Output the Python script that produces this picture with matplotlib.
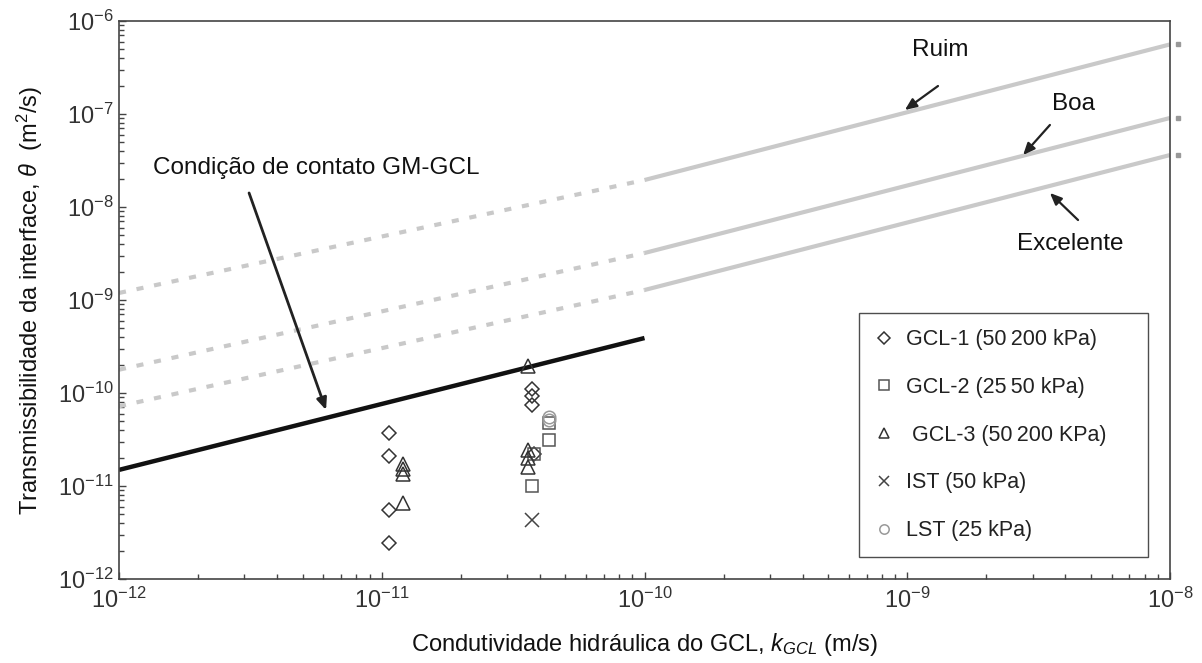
import matplotlib
matplotlib.use("Agg")
import matplotlib.pyplot as plt
from matplotlib.ticker import LogLocator, NullFormatter

plt.rcParams['font.family'] = ['Liberation Sans', 'DejaVu Sans']
plt.rcParams['mathtext.fontset'] = 'custom'
plt.rcParams['mathtext.rm'] = 'Liberation Sans'
plt.rcParams['mathtext.it'] = 'Liberation Sans:italic'
plt.rcParams['mathtext.sf'] = 'Liberation Sans'

# ---------------- data ----------------
k_dashed = [1e-12, 1e-10]
k_solid = [1e-10, 1e-8]
ruim_dashed = [1.19e-9, 1.95e-8]
ruim_solid = [1.95e-8, 5.6e-7]
boa_dashed = [1.78e-10, 3.2e-9]
boa_solid = [3.2e-9, 9.06e-8]
exc_dashed = [7.2e-11, 1.28e-9]
exc_solid = [1.28e-9, 3.62e-8]

k_contact = [1e-12, 1e-10]
theta_contact = [1.49e-11, 3.9e-10]

gcl1_k = [1.07e-11, 1.07e-11, 1.07e-11, 1.07e-11, 3.74e-11, 3.74e-11, 3.74e-11, 3.8e-11]
gcl1_t = [3.74e-11, 2.1e-11, 5.5e-12, 2.42e-12, 1.1e-10, 9.3e-11, 7.4e-11, 2.2e-11]
gcl2_k = [3.8e-11, 3.74e-11, 4.34e-11, 4.34e-11]
gcl2_t = [2.2e-11, 1.0e-11, 3.13e-11, 4.8e-11]
gcl3_k = [1.2e-11, 1.2e-11, 1.2e-11, 1.2e-11, 3.59e-11, 3.59e-11, 3.59e-11, 3.59e-11]
gcl3_t = [1.71e-11, 1.51e-11, 1.35e-11, 6.6e-12, 1.95e-10, 2.44e-11, 1.99e-11, 1.61e-11]
ist_k = [3.74e-11]
ist_t = [4.3e-12]
lst_k = [4.34e-11, 4.34e-11]
lst_t = [5.56e-11, 5.1e-11]

labels = ["GCL-1 (50\u2009200 kPa)", "GCL-2 (25\u200950 kPa)", " GCL-3 (50\u2009200 KPa)",
          "IST (50 kPa)", "LST (25 kPa)"]

# ---------------- figure ----------------
fig = plt.figure(figsize=(12.02, 6.63), dpi=100)
ax = fig.add_axes([119/1202, 1-579/663, (1170-119)/1202, (579-21)/663])
ax.set_xscale('log')
ax.set_yscale('log')
ax.set_xlim(1e-12, 1e-8)
ax.set_ylim(1e-12, 1e-6)

gray = '#c9c9c9'
dash = (0, (1.7, 2.6))
for d, s in [(ruim_dashed, ruim_solid), (boa_dashed, boa_solid), (exc_dashed, exc_solid)]:
    ax.plot(k_dashed, d, color=gray, lw=3, linestyle=dash, dash_capstyle='butt')
    ax.plot(k_solid, s, color=gray, lw=3, solid_capstyle='butt')
    # small stray dot just outside the right spine at the end of each line
    ax.plot([k_solid[-1] * 1.07], [s[-1]], marker='s', markersize=2.2, color='#999999',
            linestyle='none', clip_on=False)

ax.plot(k_contact, theta_contact, color='#111111', lw=3.2, solid_capstyle='butt')

mk = dict(linestyle='none', markerfacecolor='none', markeredgewidth=1.1)
h1, = ax.plot(gcl1_k, gcl1_t, marker='D', markersize=7.5, markeredgecolor='#333333', **mk)
h2, = ax.plot(gcl2_k, gcl2_t, marker='s', markersize=9, markeredgecolor='#555555', **mk)
h3, = ax.plot(gcl3_k, gcl3_t, marker='^', markersize=10, markeredgecolor='#333333', **mk)
h4, = ax.plot(ist_k, ist_t, marker='x', markersize=10, markeredgecolor='#444444', **mk)
h5, = ax.plot(lst_k, lst_t, marker='o', markersize=9, markeredgecolor='#999999', **mk)

x0 = (859 - 119) / 1051
x1 = (1148 - 119) / 1051
leg = ax.legend([h1, h2, h3, h4, h5], labels, loc='lower left',
                bbox_to_anchor=(x0, 0.039, x1 - x0, 0.43), mode='expand',
                frameon=True, fancybox=False,
                edgecolor='#222222', fontsize=15.5, labelspacing=1.24,
                handlelength=0.8, handletextpad=0.65, borderpad=0.75,
                markerscale=0.75, borderaxespad=0)
leg.get_frame().set_linewidth(1.0)
for t in leg.get_texts():
    t.set_color('#222222')

ap = dict(arrowstyle='-|>,head_length=0.7,head_width=0.3', color='#222222', lw=1.6,
          shrinkA=0, shrinkB=0)
ap_big = dict(arrowstyle='-|>,head_length=0.7,head_width=0.3', color='#222222', lw=2.0,
              shrinkA=0, shrinkB=0)
ax.annotate("", xy=(10**-9.009, 10**-6.957), xytext=(10**-8.883, 10**-6.699), arrowprops=ap)
ax.annotate("", xy=(10**-8.559, 10**-7.441), xytext=(10**-8.457, 10**-7.118), arrowprops=ap)
ax.annotate("", xy=(10**-8.457, 10**-7.849), xytext=(10**-8.350, 10**-8.140), arrowprops=ap)
ax.annotate("", xy=(10**-11.212, 10**-10.183), xytext=(10**-11.505, 10**-7.849), arrowprops=ap_big)

tfs = 17.5
ax.text(10**-8.875, 10**-6.312, "Ruim", fontsize=tfs, ha='center', va='center', color='#111111')
ax.text(10**-8.369, 10**-6.892, "Boa", fontsize=tfs, ha='center', va='center', color='#111111')
ax.text(10**-8.381, 10**-8.398, "Excelente", fontsize=tfs, ha='center', va='center', color='#111111')
ax.text(10**-11.25, 10**-7.581, "Condição de contato GM-GCL", fontsize=tfs, ha='center',
        va='center', color='#111111')

# axes styling
for side in ['top', 'right', 'left', 'bottom']:
    ax.spines[side].set_color('#444444')
    ax.spines[side].set_linewidth(1.2)
ax.xaxis.set_major_locator(LogLocator(base=10, numticks=10))
ax.yaxis.set_major_locator(LogLocator(base=10, numticks=10))
ax.xaxis.set_minor_locator(LogLocator(base=10, subs=range(2, 10), numticks=20))
ax.yaxis.set_minor_locator(LogLocator(base=10, subs=range(2, 10), numticks=20))
ax.xaxis.set_minor_formatter(NullFormatter())
ax.yaxis.set_minor_formatter(NullFormatter())
ax.tick_params(which='both', direction='in', top=False, right=False, colors='#444444',
               labelsize=17, labelcolor='#333333')
ax.tick_params(which='major', length=5, width=1)
ax.tick_params(which='minor', length=3.5, width=1)
ax.tick_params(axis='x', pad=6)
ax.tick_params(axis='y', pad=4)

ax.set_xlabel("Condutividade hidráulica do GCL, $k_{GCL}$ (m/s)", fontsize=17,
              color='#111111', labelpad=13)
ax.set_ylabel("Transmissibilidade da interface, $\\theta$  (m$^2$/s)", fontsize=17,
              color='#111111', labelpad=9)

fig.savefig("out.png", dpi=100)
